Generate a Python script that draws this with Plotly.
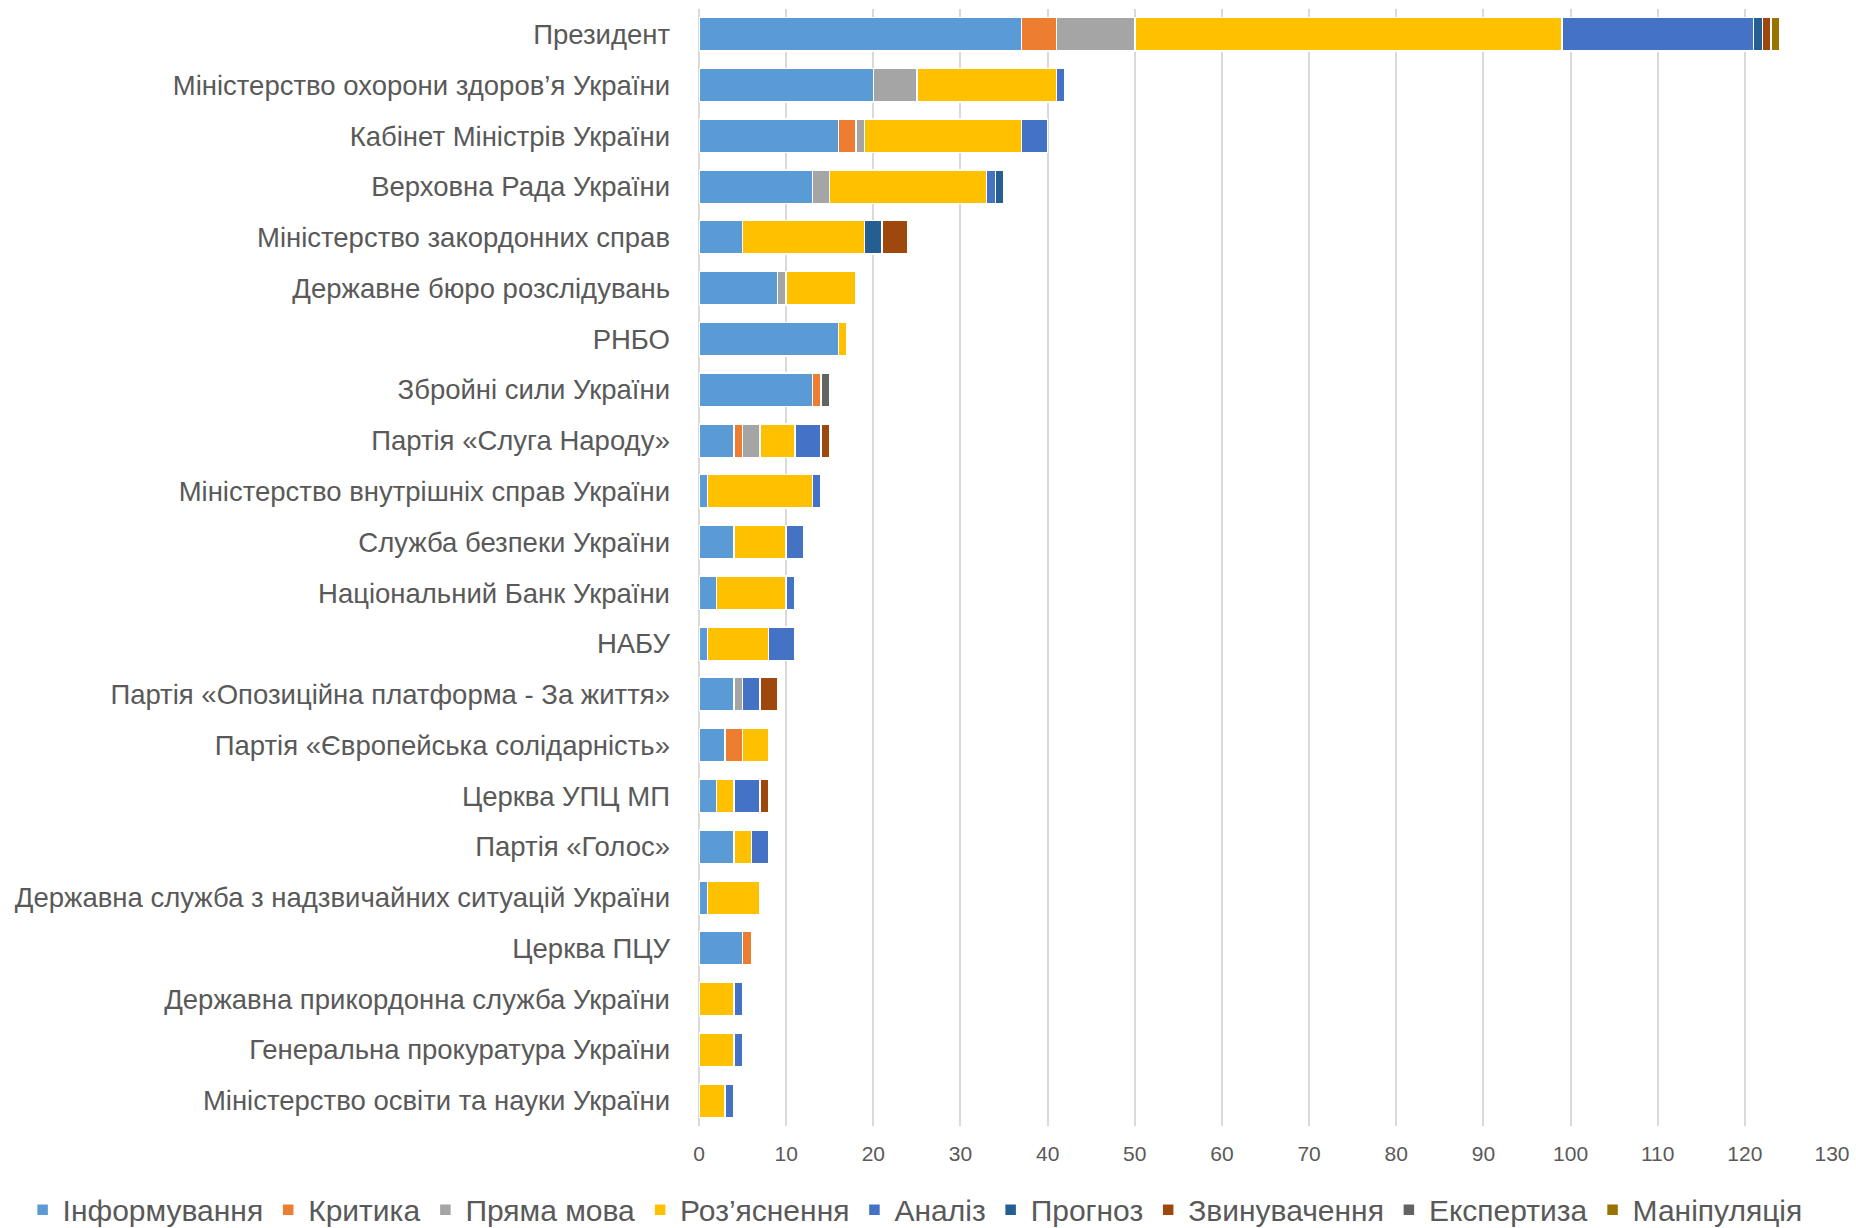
import plotly.graph_objects as go

categories = [
    "Президент",
    "Міністерство охорони здоров’я України",
    "Кабінет Міністрів України",
    "Верховна Рада України",
    "Міністерство закордонних справ",
    "Державне бюро розслідувань",
    "РНБО",
    "Збройні сили України",
    "Партія «Слуга Народу»",
    "Міністерство внутрішніх справ України",
    "Служба безпеки України",
    "Національний Банк України",
    "НАБУ",
    "Партія «Опозиційна платформа - За життя»",
    "Партія «Європейська солідарність»",
    "Церква УПЦ МП",
    "Партія «Голос»",
    "Державна служба з надзвичайних ситуацій України",
    "Церква ПЦУ",
    "Державна прикордонна служба України",
    "Генеральна прокуратура України",
    "Міністерство освіти та науки України",
]

informuvannia = [37, 20, 16, 13, 5, 9, 16, 13, 4, 1, 4, 2, 1, 4, 3, 2, 4, 1, 5, 0, 0, 0]
krytyka       = [4, 0, 2, 0, 0, 0, 0, 1, 1, 0, 0, 0, 0, 0, 2, 0, 0, 0, 1, 0, 0, 0]
priama_mova   = [9, 5, 1, 2, 0, 1, 0, 0, 2, 0, 0, 0, 0, 1, 0, 0, 0, 0, 0, 0, 0, 0]
roziasnennia  = [49, 16, 18, 18, 14, 8, 1, 0, 4, 12, 6, 8, 7, 0, 3, 2, 2, 6, 0, 4, 4, 3]
analiz        = [22, 1, 3, 1, 0, 0, 0, 0, 3, 1, 2, 1, 3, 2, 0, 3, 2, 0, 0, 1, 1, 1]
prohnoz       = [1, 0, 0, 1, 2, 0, 0, 0, 0, 0, 0, 0, 0, 0, 0, 0, 0, 0, 0, 0, 0, 0]
zvynuvachennia = [1, 0, 0, 0, 3, 0, 0, 0, 1, 0, 0, 0, 0, 2, 0, 1, 0, 0, 0, 0, 0, 0]
ekspertyza    = [0, 0, 0, 0, 0, 0, 0, 1, 0, 0, 0, 0, 0, 0, 0, 0, 0, 0, 0, 0, 0, 0]
manipuliatsiia = [1, 0, 0, 0, 0, 0, 0, 0, 0, 0, 0, 0, 0, 0, 0, 0, 0, 0, 0, 0, 0, 0]

series_names = ["Інформування", "Критика", "Пряма мова", "Роз’яснення", "Аналіз",
                "Прогноз", "Звинувачення", "Експертиза", "Маніпуляція"]
series_values = [informuvannia, krytyka, priama_mova, roziasnennia, analiz,
                 prohnoz, zvynuvachennia, ekspertyza, manipuliatsiia]
colors = ["#5B9BD5", "#ED7D31", "#A5A5A5", "#FFC000", "#4472C4",
          "#255E91", "#9E480E", "#636363", "#997300"]

tick_vals = list(range(0, 131, 10))

fig = go.Figure()
for name, vals, col in zip(series_names, series_values, colors):
    fig.add_trace(go.Bar(
        y=categories, x=vals, name=name, orientation="h",
        marker=dict(color=col, line=dict(color="white", width=1.5)),
    ))

font_family = "Liberation Sans, Arial, sans-serif"
fig.update_layout(
    barmode="stack",
    bargap=0.34,
    width=1856, height=1228,
    paper_bgcolor="white", plot_bgcolor="white",
    margin=dict(l=699, r=24, t=9, b=102, autoexpand=False),
    font=dict(family=font_family, color="#595959", size=27),
    xaxis=dict(
        range=[0, 130], tickvals=tick_vals, showgrid=True,
        gridcolor="#D9D9D9", gridwidth=2, zeroline=True,
        zerolinecolor="#D9D9D9", zerolinewidth=2,
        tickfont=dict(size=21, color="#595959"), ticks="", fixedrange=True,
        showline=False, automargin=False, ticklabelstandoff=13,
    ),
    yaxis=dict(
        autorange="reversed", tickfont=dict(size=27.5, color="#595959"),
        ticks="", ticklabelstandoff=28, showline=False, automargin=False,
    ),
    legend=dict(
        orientation="h", x=-0.597, xanchor="left",
        y=-0.075, yanchor="middle",
        font=dict(size=30, color="#595959"), traceorder="normal",
        itemwidth=30,
    ),
    showlegend=True,
)

fig.write_html(
    "out.html",
    config={"displayModeBar": False},
    post_script="document.body.style.margin='0';document.body.style.padding='0';",
)
